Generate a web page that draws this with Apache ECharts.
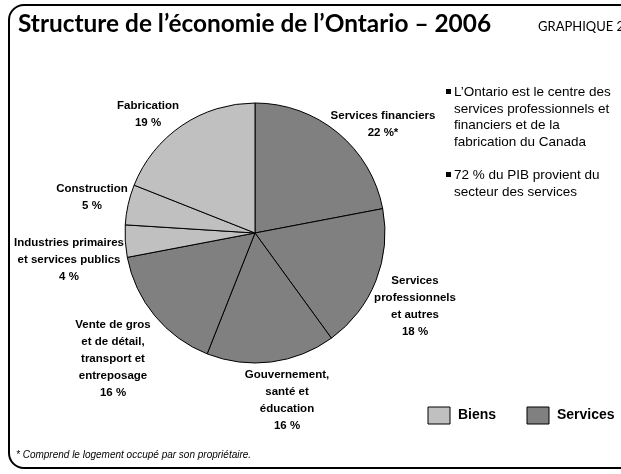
<!DOCTYPE html>
<html>
<head>
<meta charset="utf-8">
<script src="https://cdn.jsdelivr.net/npm/echarts@6/dist/echarts.min.js"></script>
<style>
html,body{margin:0;padding:0;background:#fff;}
#chart{width:621px;height:474px;}
</style>
</head>
<body>
<div id="chart"></div>
<script>
// ---- data ----
var sectors = [
  'Services financiers',
  'Services\nprofessionnels\net autres',
  'Gouvernement,\nsanté et\néducation',
  'Vente de gros\net de détail,\ntransport et\nentreposage',
  'Industries primaires\net services publics',
  'Construction',
  'Fabrication'
];
var shares = [22, 18, 16, 16, 4, 5, 19];
var shareNotes = ['*', '', '', '', '', '', ''];
var groups = ['Services', 'Services', 'Services', 'Services', 'Biens', 'Biens', 'Biens'];
var legendNames = ['Biens', 'Services'];
var bullets = [
  'L\u2019Ontario est le centre des\nservices professionnels et\nfinanciers et de la\nfabrication du Canada',
  '72 % du PIB provient du\nsecteur des services'
];

// ---- styles / layout ----
var groupColors = { 'Biens': '#c0c0c0', 'Services': '#808080' };
var labelCenters = [[383, 124], [415, 306], [287, 400], [113, 359], [69, 260], [92, 197], [148, 114]];
var sans = '"Liberation Sans", Arial, sans-serif';

var chart = echarts.init(document.getElementById('chart'), null, { renderer: 'canvas' });

var pieData = sectors.map(function (n, i) {
  return { name: n, value: shares[i], itemStyle: { color: groupColors[groups[i]] } };
});

var graphics = [
  { type: 'rect', shape: { x: 9, y: 5, width: 660, height: 463, r: 15 },
    style: { fill: 'none', stroke: '#000', lineWidth: 2 }, z: 1 },
  { type: 'text', left: 18, top: 12,
    style: { text: 'Structure de l\u2019économie de l\u2019Ontario \u2013 2006', font: 'bold 24.4px Lato, "Open Sans", sans-serif', fill: '#000' } },
  { type: 'text', left: 538, top: 20,
    style: { text: 'GRAPHIQUE 2', font: '13px Lato, sans-serif', fill: '#000' } },
  { type: 'text', left: 16, top: 450,
    style: { text: '* Comprend le logement occupé par son propriétaire.', font: 'italic 10px ' + sans, fill: '#000' } }
];
bullets.forEach(function (b, i) {
  var top = i === 0 ? 84 : 167;
  graphics.push({ type: 'rect', shape: { x: 446, y: top + 5, width: 5, height: 5 }, style: { fill: '#000' } });
  graphics.push({ type: 'text', left: 454, top: top,
    style: { text: b, font: '13.5px ' + sans, lineHeight: 16.7, fill: '#000' } });
});
var legendX = [428, 527];
legendNames.forEach(function (n, i) {
  graphics.push({ type: 'rect', shape: { x: legendX[i], y: 407, width: 22, height: 17 },
    style: { fill: groupColors[n], stroke: '#000', lineWidth: 1 } });
  graphics.push({ type: 'text', left: legendX[i] + 30, top: 408,
    style: { text: n, font: 'bold 14px ' + sans, fill: '#000' } });
});

chart.setOption({
  animation: false,
  backgroundColor: '#fff',
  graphic: graphics,
  series: [{
    type: 'pie',
    center: [255, 233],
    radius: 130,
    startAngle: 90,
    clockwise: true,
    data: pieData,
    itemStyle: { borderColor: '#000', borderWidth: 1 },
    emphasis: { disabled: true },
    labelLine: { show: false },
    label: {
      show: true,
      position: 'outside',
      overflow: 'none',
      formatter: function (p) { return p.name + '\n' + p.value + ' %' + shareNotes[p.dataIndex]; },
      fontFamily: sans,
      fontWeight: 'bold',
      fontSize: 11.5,
      lineHeight: 17,
      color: '#000',
      align: 'center'
    },
    labelLayout: function (params) {
      var c = labelCenters[params.dataIndex];
      return { x: c[0], y: c[1], align: 'center', verticalAlign: 'middle' };
    }
  }]
});
</script>
</body>
</html>
